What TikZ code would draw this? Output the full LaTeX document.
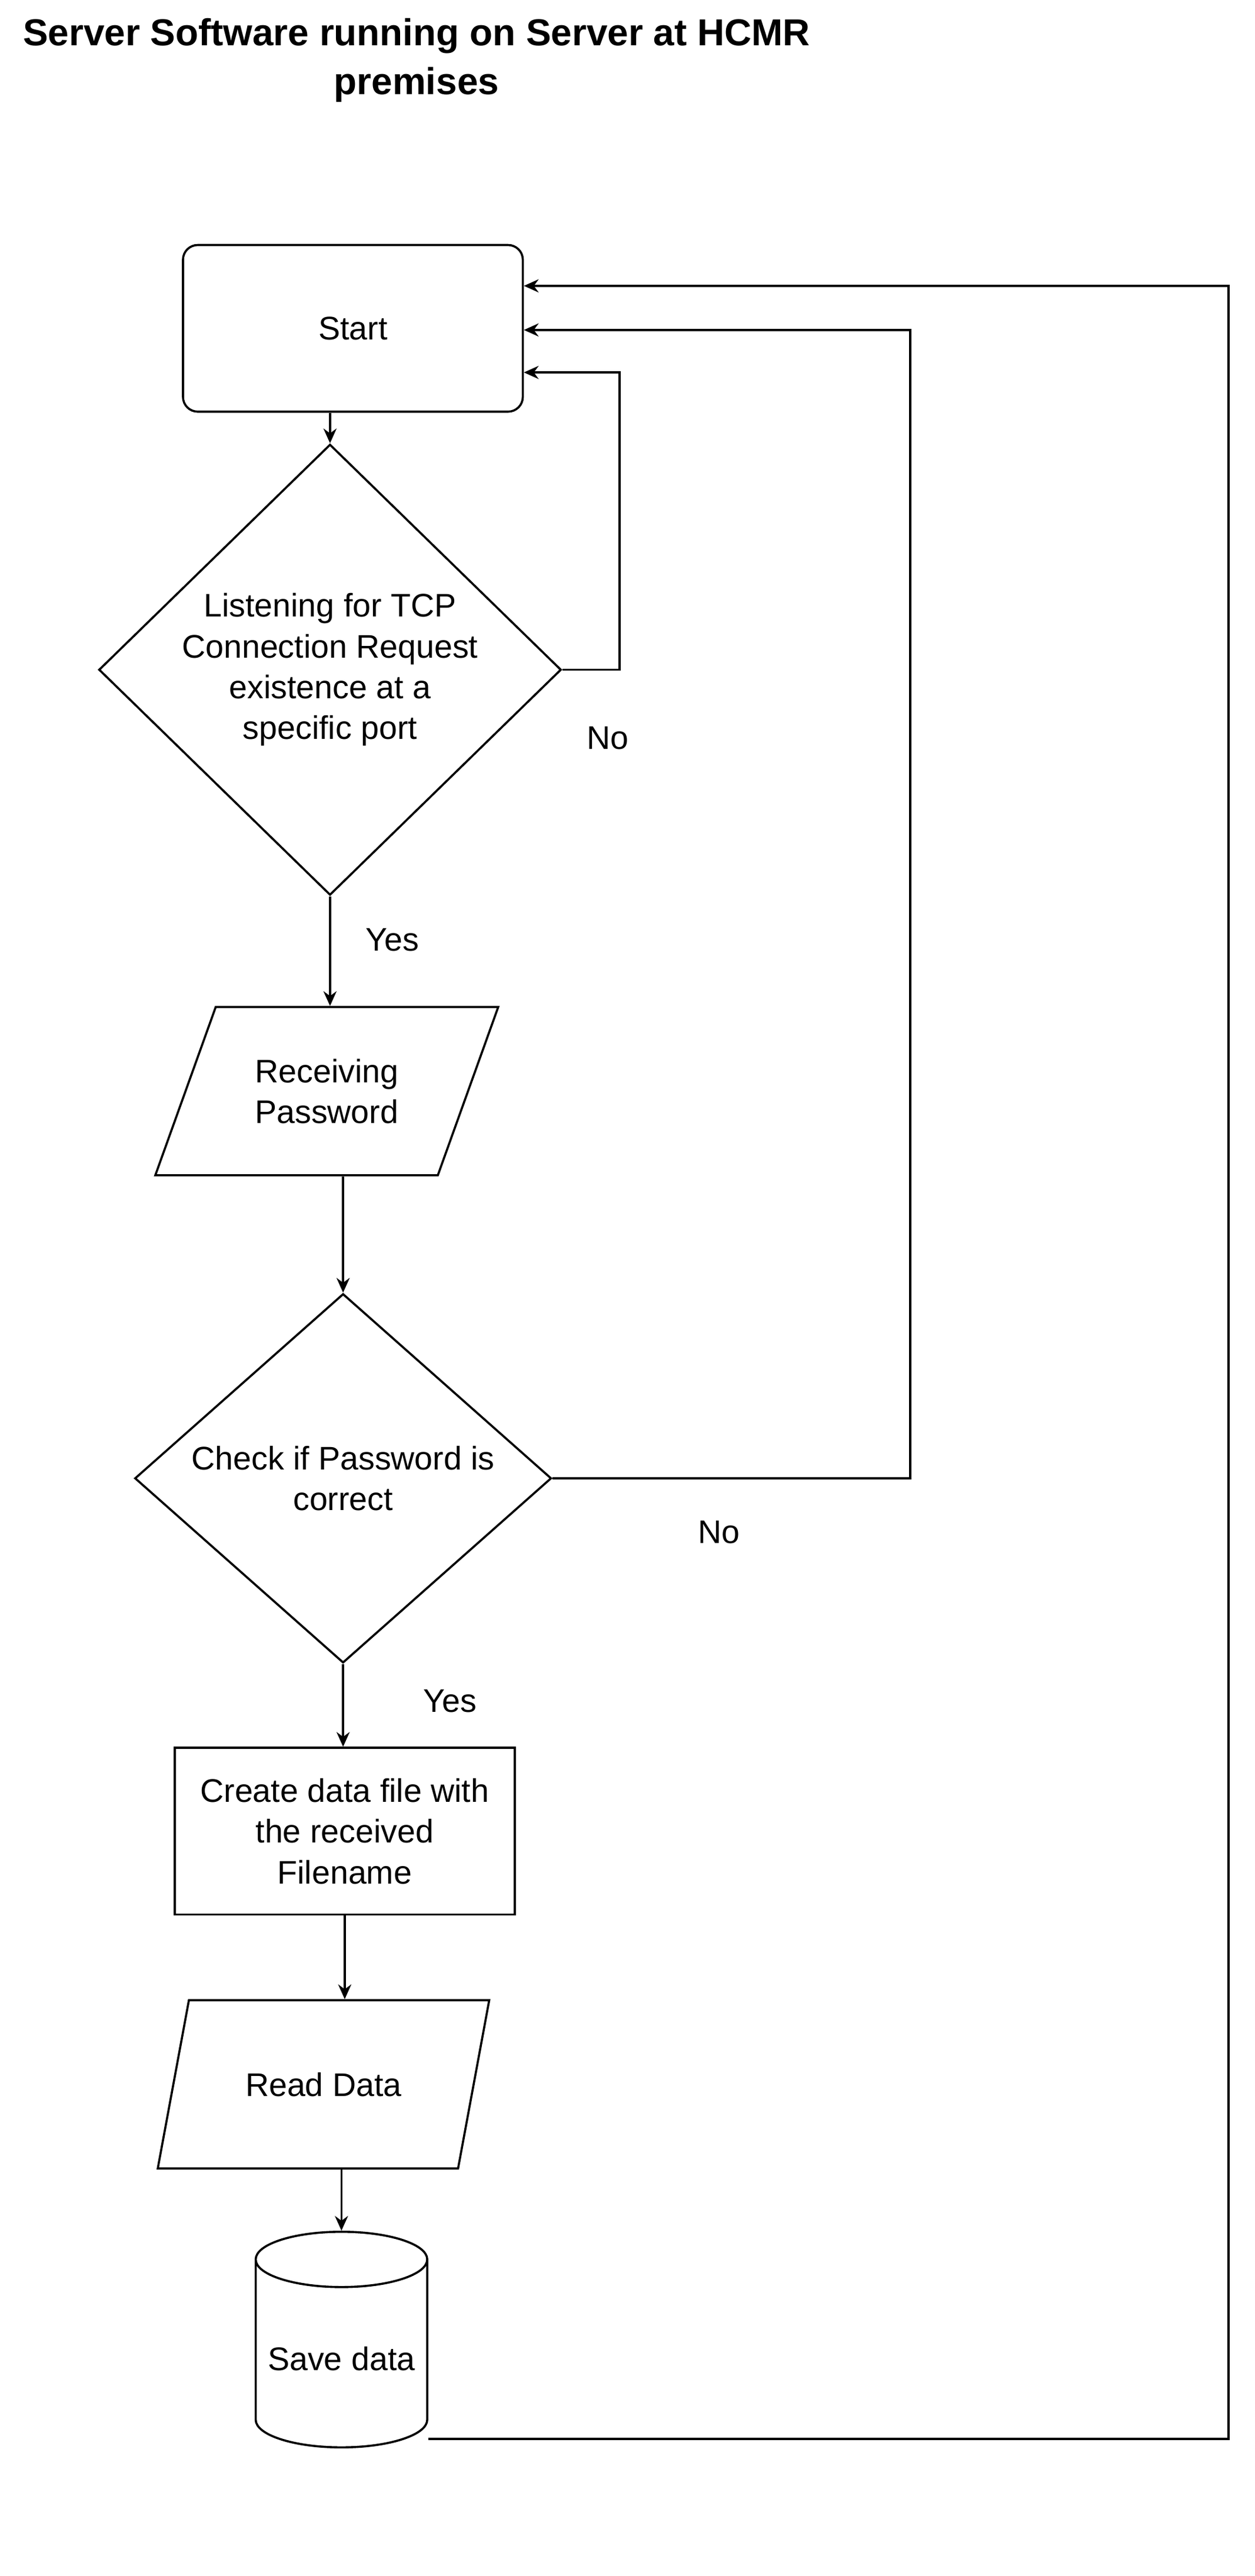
\documentclass[tikz,border=0pt]{standalone}
\usepackage{fontspec}
\setmainfont{Liberation Sans}
\usetikzlibrary{arrows,arrows.meta,shapes.geometric,calc}

\begin{document}
\begin{tikzpicture}[x=1pt,y=-1pt,>=stealth',line width=1.3pt,
                    font=\fontsize{20}{25}\selectfont]
  \tikzstyle{every node}=[align=center]
  \tikzstyle{startbox}=[rectangle,rounded corners=9pt,draw=black,fill=white,
                        minimum width=208pt,minimum height=102pt]
  \tikzstyle{decision}=[diamond,draw=black,fill=white,inner sep=0pt]
  \tikzstyle{io}=[trapezium,trapezium stretches=true,trapezium left angle=61,
                  trapezium right angle=119,draw=black,fill=white]
  \tikzstyle{process}=[rectangle,draw=black,fill=white,
                       minimum width=208pt,minimum height=102pt]
  \tikzstyle{store}=[cylinder,shape border rotate=90,aspect=0.35,draw=black,
                     fill=white,minimum width=105pt,minimum height=132pt]
  \tikzstyle{flow}=[-{Stealth[length=9pt,width=8pt]}]

  \useasboundingbox (0,0) rectangle (768,1577);

  \node[font=\bfseries\fontsize{23}{30}\selectfont] (title) at (255,37)
    {Server Software running on Server at HCMR\\premises};

  \node[startbox] (start) at (216,201) {Start};
  \node[decision,minimum width=283pt,minimum height=276pt] (listen) at (202,410)
    {Listening for TCP\\Connection Request\\existence at a\\specific port};
  \node[io,minimum width=210pt,minimum height=103pt] (recv) at (200,668)
    {Receiving\\Password};
  \node[decision,minimum width=255pt,minimum height=226pt] (check) at (210,905)
    {Check if Password is\\correct};
  \node[process] (create) at (211,1121)
    {Create data file with\\the received\\Filename};
  \node[io,minimum width=203pt,minimum height=103pt] (read) at (198,1276)
    {Read Data};
  \node[store] (save) at (209,1444) {Save data};
  \coordinate (savecorner) at (262,1493);

  \draw[flow] (start.south -| listen.north) -- (listen.north);
  \draw[flow] (listen.east) -- ++(35,0) |- ([yshift=-27pt]start.east);
  \node (no1) at (372,452) {No};
  \draw[flow] (listen.south) -- node[right=18pt,pos=0.4] {Yes} (recv.north -| listen.south);
  \draw[flow] (recv.south -| check.north) -- (check.north);
  \draw[flow] (check.east) -- ++(219,0) |- ([yshift=-1pt]start.east);
  \node (no2) at (440,938) {No};
  \draw[flow] (check.south) -- node[right=45pt,pos=0.45] {Yes} (create.north -| check.south);
  \draw[flow] (create.south) -- (read.north -| create.south);
  \draw[flow] (read.south -| save.north) -- (save.north);
  \draw[flow] (savecorner) -- (752,1493) |- ([yshift=26pt]start.east);
\end{tikzpicture}
\end{document}
